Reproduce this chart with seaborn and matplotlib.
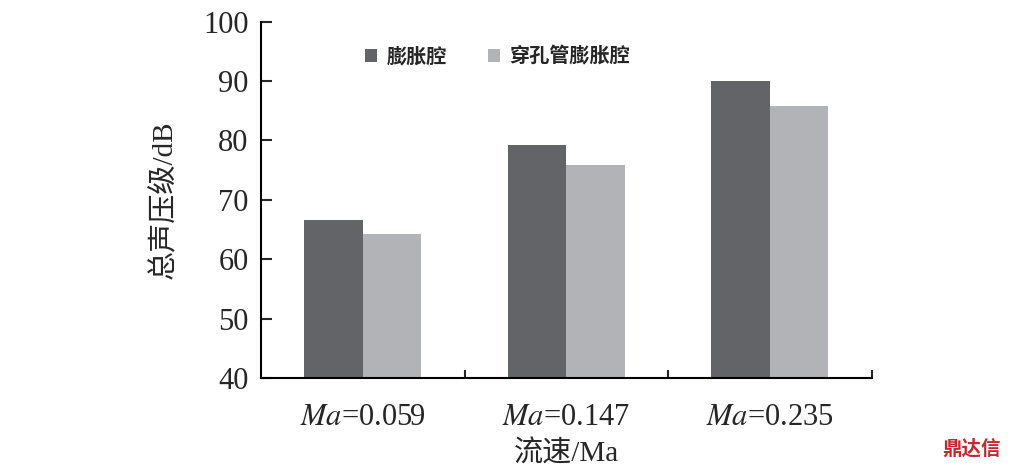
import matplotlib
matplotlib.use("Agg")
import matplotlib.pyplot as plt
import seaborn as sns
import pandas as pd

# 数据
categories = ["$\\mathit{Ma}$=0.059", "$\\mathit{Ma}$=0.147", "$\\mathit{Ma}$=0.235"]
series_names = ["膨胀腔", "穿孔管膨胀腔"]
expansion = [66.6, 79.3, 90.0]
perforated = [64.3, 75.9, 85.8]
y_ticks = [40, 50, 60, 70, 80, 90, 100]

df = pd.DataFrame({
    "cat": categories * 2,
    "series": [series_names[0]] * 3 + [series_names[1]] * 3,
    "val": expansion + perforated,
})

sns.set_style("ticks")
plt.rcParams["font.family"] = ["Liberation Serif", "Noto Sans CJK SC"]
plt.rcParams["mathtext.fontset"] = "stix"

fig = plt.figure(figsize=(10.16, 4.73), dpi=100)
ax = fig.add_axes([0.257, 0.201, 0.601, 0.753])

sns.barplot(data=df, x="cat", y="val", hue="series", ax=ax,
            palette=["#636467", "#b2b3b6"], width=0.575, gap=0,
            saturation=1, edgecolor="none", linewidth=0)

ax.set_ylim(40, 100)
ax.set_xlim(-0.5, 2.5)
ax.set_yticks(y_ticks)
ax.tick_params(axis="y", direction="in", length=8, width=1.5, labelsize=22, pad=9)
ax.tick_params(axis="x", which="major", length=0, labelsize=22, pad=18)
ax.set_xticks([0.5, 1.5, 2.5], minor=True)
ax.tick_params(axis="x", which="minor", direction="in", length=6, width=1.5)
for s in ["top", "right"]:
    ax.spines[s].set_visible(False)
for s in ["left", "bottom"]:
    ax.spines[s].set_linewidth(1.5)
    ax.spines[s].set_color("black")

ax.set_ylabel("总声压级/dB", fontsize=21, labelpad=18)
ax.set_xlabel("流速/Ma", fontsize=21, labelpad=6)

leg = ax.legend(loc="upper left", bbox_to_anchor=(0.14, 0.985), ncol=2, frameon=False,
                handlelength=0.6, handleheight=0.6, handletextpad=0.5, columnspacing=2.0,
                prop={"family": "Noto Sans CJK SC", "size": 14.5, "weight": "bold"})

fig.text(0.985, 0.03, "鼎达信", color="#c8282d", fontsize=14, fontweight="bold",
         family=["Noto Sans CJK SC"], ha="right", va="bottom")

fig.savefig("out.png", dpi=100)
